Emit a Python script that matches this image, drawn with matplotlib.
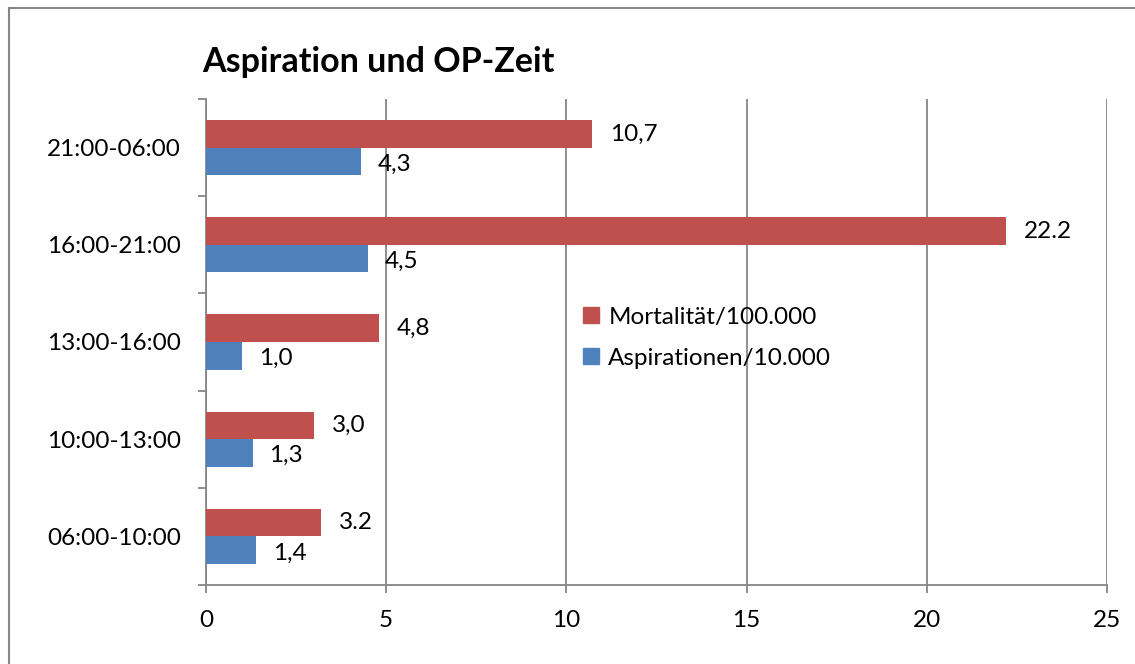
import matplotlib.pyplot as plt
from matplotlib.lines import Line2D
from matplotlib.patches import Patch

# ---------- Data ----------
categories = ["06:00-10:00", "10:00-13:00", "13:00-16:00", "16:00-21:00", "21:00-06:00"]
mortalitaet = [3.2, 3.0, 4.8, 22.2, 10.7]
aspirationen = [1.4, 1.3, 1.0, 4.5, 4.3]
mort_labels = ["3.2", "3,0", "4,8", "22.2", "10,7"]
asp_labels = ["1,4", "1,3", "1,0", "4,5", "4,3"]
x_ticks = [0, 5, 10, 15, 20, 25]

RED = "#C0504D"
BLUE = "#4F81BD"
GRID = "#868686"
FS = 17.5

plt.rcParams["font.family"] = ["Lato", "DejaVu Sans"]

W, H = 1135, 664
fig = plt.figure(figsize=(W / 100, H / 100), dpi=100)
ax = fig.add_axes([206 / W, 1 - 585 / H, (1107 - 206) / W, (585 - 99) / H])

ys = list(range(len(categories)))
bh = 0.283
ax.barh([y + bh / 2 for y in ys], mortalitaet, height=bh, color=RED, zorder=3)
ax.barh([y - bh / 2 for y in ys], aspirationen, height=bh, color=BLUE, zorder=3)

for y, v, t in zip(ys, mortalitaet, mort_labels):
    ax.annotate(t, (v, y + bh / 2), xytext=(13, 0), textcoords="offset points",
                ha="left", va="center", fontsize=FS)
for y, v, t in zip(ys, aspirationen, asp_labels):
    ax.annotate(t, (v, y - bh / 2), xytext=(12, -2), textcoords="offset points",
                ha="left", va="center", fontsize=FS)

ax.set_xlim(0, 25)
ax.set_ylim(-0.5, len(categories) - 0.5)
ax.set_xticks(x_ticks)
ax.set_xticklabels([str(v) for v in x_ticks], fontsize=FS)
ax.tick_params(axis="x", length=6, color=GRID, width=1.3, pad=12)

# category boundaries as major ticks, labels on minor ticks
ax.set_yticks([y - 0.5 for y in range(len(categories) + 1)])
ax.set_yticklabels([])
ax.set_yticks(ys, minor=True)
ax.set_yticklabels(categories, minor=True, fontsize=FS)
ax.tick_params(axis="y", which="major", length=6, color=GRID, width=1.3)
ax.tick_params(axis="y", which="minor", length=0, pad=18)

ax.xaxis.grid(True, color=GRID, linewidth=1.3, zorder=0)
ax.set_axisbelow(True)
for s in ["top", "right"]:
    ax.spines[s].set_visible(False)
for s in ["left", "bottom"]:
    ax.spines[s].set_color(GRID)
    ax.spines[s].set_linewidth(1.3)

fig.text(202 / W, 1 - 62 / H, "Aspiration und OP-Zeit", fontsize=24.5,
         fontweight="bold", ha="left", va="center")

handles = [Patch(color=RED, label="Mortalität/100.000"),
           Patch(color=BLUE, label="Aspirationen/10.000")]
fig.legend(handles=handles, loc="upper left", bbox_to_anchor=(561 / W, 1 - 285 / H),
           frameon=False, fontsize=FS, handlelength=0.65, handleheight=0.65,
           handletextpad=0.4, labelspacing=0.82)

# chart border (left and top edges visible)
fig.add_artist(Line2D([9 / W, 9 / W], [0, 1 - 8 / H], color=GRID, linewidth=1.5))
fig.add_artist(Line2D([9 / W, 1], [1 - 8 / H, 1 - 8 / H], color=GRID, linewidth=1.5))

fig.savefig("out.png", dpi=100)
